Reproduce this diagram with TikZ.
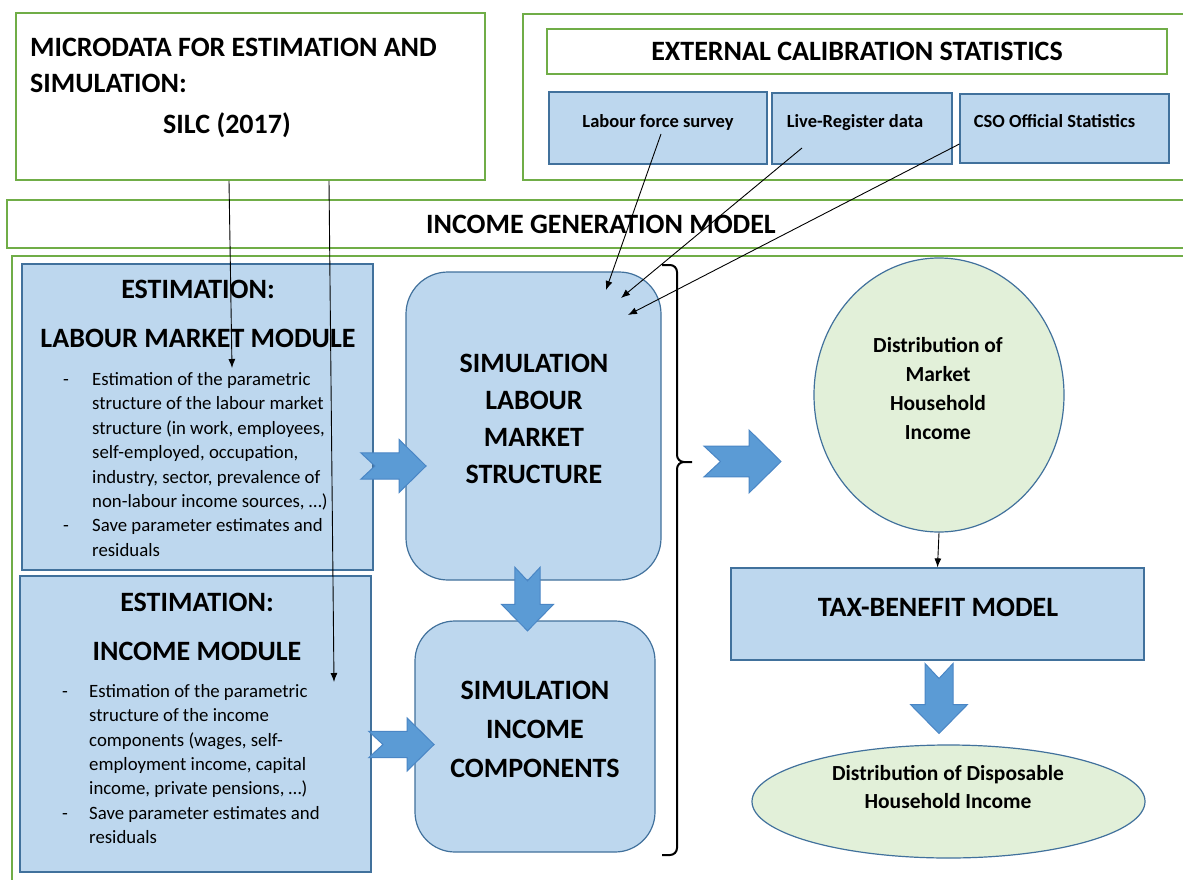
\documentclass[tikz,border=0pt]{standalone}
\usepackage{fontspec}
\setmainfont{Carlito}
\usetikzlibrary{shapes.geometric,arrows.meta}

\definecolor{frameg}{HTML}{70AD47}
\definecolor{boxblue}{HTML}{BDD7EE}
\definecolor{edgeblue}{HTML}{41719C}
\definecolor{arrowblue}{HTML}{5B9BD5}
\definecolor{arrowedge}{HTML}{4A86C5}
\definecolor{ellgreen}{HTML}{E2F0D9}

\begin{document}
\begin{tikzpicture}[x=1pt,y=-1pt]
	\tikzstyle{every node}=[inner sep=0pt]
	\tikzstyle{greenbox}=[rectangle, draw=frameg, line width=1.6pt, fill=white]
	\tikzstyle{bluebox}=[rectangle, draw=edgeblue, line width=1.2pt, fill=boxblue]
	\tikzstyle{simbox}=[bluebox, rounded corners=42pt]
	\tikzstyle{greenell}=[ellipse, draw=edgeblue, line width=1.2pt, fill=ellgreen]
	\tikzstyle{bigtext}=[font=\fontsize{28}{36}\selectfont\bfseries, align=center]
	\tikzstyle{smalltext}=[font=\fontsize{18.5}{24}\selectfont\bfseries]
	\tikzstyle{ovaltext}=[font=\fontsize{21.5}{28.7}\selectfont\bfseries, align=center]
	\tikzstyle{bodytext}=[font=\fontsize{18.8}{24.4}\selectfont]
	\tikzstyle{thinarrow}=[-{Latex[length=9pt,width=7pt]}, line width=0.9pt, black]
	\tikzstyle{bigarrow}=[fill=arrowblue, draw=arrowedge, line width=1pt]
	\tikzset{notcharrow/.pic={
		\filldraw[bigarrow] (-35,14) -- (6,14) -- (6,28.5) -- (35,0) -- (6,-28.5)
			-- (6,-14) -- (-35,-14) -- (-20,0) -- cycle;
	}}

	\fill[white] (0,0) rectangle (1183,880);
	\useasboundingbox (0,0) rectangle (1183,880);

	% data and calibration sources
	\node[greenbox, minimum width=469pt, minimum height=167pt] (micro) at (250.5,96.5) {};
	\node[bigtext, align=left, anchor=west] (microtext) at (30,87.5)
		{MICRODATA FOR ESTIMATION AND\\SIMULATION:\\[5pt]\hspace*{133pt}SILC (2017)};
	\node[greenbox, minimum width=672pt, minimum height=166pt] (extframe) at (859,97) {};
	\node[greenbox, bigtext, minimum width=620pt, minimum height=45pt] (exttitle) at (857,51.5)
		{EXTERNAL CALIBRATION STATISTICS};
	\node[bluebox, minimum width=218pt, minimum height=72pt] (lfs) at (658,128) {};
	\node[bluebox, minimum width=180pt, minimum height=71pt] (live) at (862,128.5) {};
	\node[bluebox, minimum width=209pt, minimum height=69pt] (cso) at (1064.5,128.5) {};
	\node[smalltext] (lfstext) at (658,122) {Labour force survey};
	\node[smalltext] (livetext) at (855,122.5) {Live-Register data};
	\node[smalltext] (csotext) at (1054.5,121.5) {CSO Official Statistics};

	% income generation model
	\node[greenbox, bigtext, minimum width=1188pt, minimum height=48pt] (igm) at (601,224)
		{INCOME GENERATION MODEL};
	\node[greenbox, minimum width=1183pt, minimum height=639pt] (modelframe) at (603.5,575.5) {};

	\node[bluebox, minimum width=351pt, minimum height=306pt] (estlm) at (197.5,417) {};
	\node[bigtext, font=\fontsize{28}{49}\selectfont\bfseries] (estlmtitle) at (198,313.5)
		{ESTIMATION:\\LABOUR MARKET MODULE};
	\node[bodytext, anchor=north west] (estlmlist) at (63,368.2) {%
		\begin{tabular}{@{}p{29pt}@{}l@{}}
		- & Estimation of the parametric\\
		  & structure of the labour market\\
		  & structure (in work, employees,\\
		  & self-employed, occupation,\\
		  & industry, sector, prevalence of\\
		  & non-labour income sources, …)\\
		- & Save parameter estimates and\\
		  & residuals
		\end{tabular}};

	\node[bluebox, minimum width=351pt, minimum height=296pt] (estinc) at (195.5,724) {};
	\node[bigtext, font=\fontsize{28}{49}\selectfont\bfseries] (estinctitle) at (197,626.5)
		{ESTIMATION:\\INCOME MODULE};
	\node[bodytext, anchor=north west] (estinclist) at (62,680) {%
		\begin{tabular}{@{}p{27pt}@{}l@{}}
		- & Estimation of the parametric\\
		  & structure of the income\\
		  & components (wages, self-\\
		  & employment income, capital\\
		  & income, private pensions, …)\\
		- & Save parameter estimates and\\
		  & residuals
		\end{tabular}};

	\node[simbox, minimum width=255pt, minimum height=308pt] (simlm) at (533.5,426) {};
	\node[bigtext, font=\fontsize{28}{37}\selectfont\bfseries] (simlmtext) at (534,419)
		{SIMULATION\\LABOUR\\MARKET\\STRUCTURE};
	\node[simbox, rounded corners=40pt, minimum width=240pt, minimum height=231pt] (siminc) at (535,736.5) {};
	\node[bigtext, font=\fontsize{28}{39}\selectfont\bfseries] (siminctext) at (535,729)
		{SIMULATION\\INCOME\\COMPONENTS};

	% bracket round both simulations
	\draw[line width=2pt, rounded corners=7pt]
		(662,265) -- (677,265) -- (677,462) -- (692,462)
		(692,462) -- (677,462) -- (677,855) -- (662,855);

	% outcomes
	\node[greenell, minimum width=250pt, minimum height=274pt] (market) at (939,395) {};
	\node[ovaltext] (markettext) at (938,388.5) {Distribution of\\Market\\Household\\Income};
	\node[bluebox, bigtext, minimum width=413pt, minimum height=92pt] (tb) at (937.5,614) {};
	\node[bigtext] (tbtext) at (938,607) {TAX-BENEFIT MODEL};
	\node[greenell, minimum width=393pt, minimum height=113pt] (disp) at (948.5,801.5) {};
	\node[ovaltext, font=\fontsize{21.5}{28}\selectfont\bfseries] (disptext) at (948,787.5)
		{Distribution of Disposable\\Household Income};

	% block arrows
	\pic[scale=0.93] (lmarrow) at (393.5,466) {notcharrow};
	\pic[scale=0.93] (incarrow) at (401.5,744.5) {notcharrow};
	\pic[scale=0.91, rotate=-90] (simarrow) at (527.5,599) {notcharrow};
	\pic[scale=1.1] (bracearrow) at (742.5,461.5) {notcharrow};
	\pic[scale=1.0, rotate=-90] (tbarrow) at (939,698.5) {notcharrow};

	% thin connectors
	\coordinate (lmin) at (232,368);
	\coordinate (incin) at (334,682);
	\coordinate (lfsend) at (606,290);
	\coordinate (liveend) at (621,298);
	\coordinate (csoend) at (628,315);
	\draw[thinarrow] ([xshift=-21.5pt]micro.south) -- (lmin);
	\draw[thinarrow] ([xshift=78.5pt]micro.south) -- (incin);
	\draw[thinarrow] ([shift={(3,6)}]lfs.center) -- (lfsend);
	\draw[thinarrow] ([shift={(-60,19.5)}]live.center) -- (liveend);
	\draw[thinarrow] ([shift={(0,15.5)}]cso.west) -- (csoend);
	\draw[thinarrow] (market.south) -- (tb.north);
\end{tikzpicture}
\end{document}
